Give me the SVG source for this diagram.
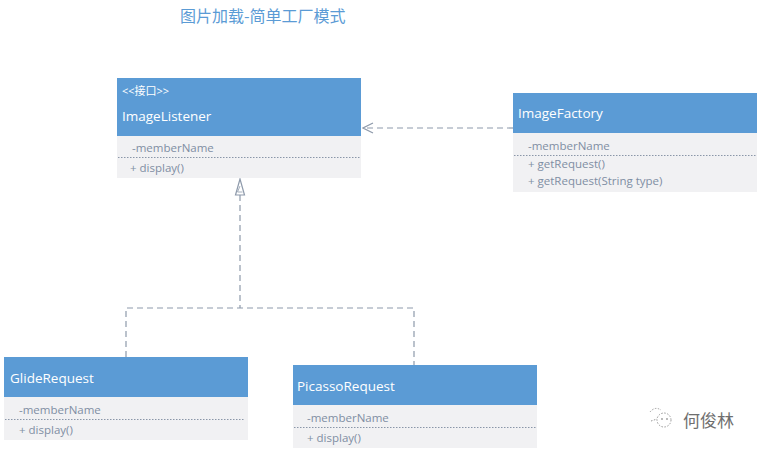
<svg xmlns="http://www.w3.org/2000/svg" width="759" height="452" viewBox="0 0 759 452">
<style>
.hdr{fill:#5b9bd5}
.body{fill:#f1f1f3}
.name{font-family:"Open Sans","Noto Sans",sans-serif;font-size:13.5px;fill:#ffffff}
.stereo{font-family:"Open Sans","Noto Sans CJK SC",sans-serif;font-size:11px;fill:#ffffff}
.mem{font-family:"Open Sans","Noto Sans",sans-serif;font-size:11.5px;fill:#7f8ea3}
.sep{stroke:#8a96a8;stroke-width:1;stroke-dasharray:1.5 1.5}
.conn{fill:none;stroke:#8e9aab;stroke-width:1.2;stroke-dasharray:6 4}
.title{font-family:"Noto Sans CJK SC",sans-serif;font-size:16px;fill:#5b9bd5}
</style>
<defs>
<marker id="open" markerWidth="12" markerHeight="12" refX="11" refY="6" orient="auto" markerUnits="userSpaceOnUse">
<path d="M1,1 L11,6 L1,11" fill="none" stroke="#8e9aab" stroke-width="1.2"/>
</marker>
</defs>
<rect width="759" height="452" fill="#ffffff"/>
<text class="title" x="180" y="22">图片加载-简单工厂模式</text>

<g id="connectors">
<path class="conn" d="M513,128 L363,128" marker-end="url(#open)"/>
<path class="conn" d="M240,195 L240,308"/>
<path class="conn" d="M126,357 L126,308 L414,308 L414,365"/>
<path d="M240,179 L235.5,195 L244.5,195 Z" fill="#ffffff" stroke="#8e9aab" stroke-width="1.2"/>
<path d="M240,186 L237.5,192 L242.5,192" fill="none" stroke="#8e9aab" stroke-width="0.8"/>
</g>

<g id="ImageListener">
<rect class="hdr" x="117" y="78" width="244" height="58"/>
<rect class="body" x="117" y="136" width="244" height="42"/>
<text class="stereo" x="122" y="95">&lt;&lt;接口&gt;&gt;</text>
<text class="name" x="122" y="121">ImageListener</text>
<text class="mem" x="132" y="152">-memberName</text>
<line class="sep" x1="118" y1="157.5" x2="360" y2="157.5"/>
<text class="mem" x="130" y="172">+ display()</text>
</g>

<g id="ImageFactory">
<rect class="hdr" x="513" y="93" width="244" height="40"/>
<rect class="body" x="513" y="133" width="244" height="59"/>
<text class="name" x="518" y="118">ImageFactory</text>
<text class="mem" x="528" y="150">-memberName</text>
<line class="sep" x1="514" y1="155.5" x2="756" y2="155.5"/>
<text class="mem" x="528" y="168">+ getRequest()</text>
<text class="mem" x="528" y="185">+ getRequest(String type)</text>
</g>

<g id="GlideRequest">
<rect class="hdr" x="4" y="357" width="244" height="40"/>
<rect class="body" x="4" y="397" width="244" height="43"/>
<text class="name" x="10" y="383">GlideRequest</text>
<text class="mem" x="19" y="414">-memberName</text>
<line class="sep" x1="5" y1="419.5" x2="245" y2="419.5"/>
<text class="mem" x="19" y="434">+ display()</text>
</g>

<g id="PicassoRequest">
<rect class="hdr" x="293" y="365" width="244" height="40"/>
<rect class="body" x="293" y="405" width="244" height="43"/>
<text class="name" x="297" y="391">PicassoRequest</text>
<text class="mem" x="307" y="422">-memberName</text>
<line class="sep" x1="294" y1="427.5" x2="536" y2="427.5"/>
<text class="mem" x="307" y="442">+ display()</text>
</g>

<g id="watermark">
<g fill="none" stroke="#9a9a9a" stroke-width="1" stroke-dasharray="1.5 1.5">
<circle cx="664" cy="420" r="7"/>
<path d="M650,412 Q655,406 661,410"/>
<path d="M651,421 L657,419"/>
</g>
<circle cx="662" cy="419" r="0.9" fill="#9a9a9a"/>
<circle cx="667" cy="419" r="0.9" fill="#9a9a9a"/>
<text x="683" y="427" font-family="Noto Sans CJK SC,sans-serif" font-size="17" fill="#6f6f6f">何俊林</text>
</g>
</svg>
